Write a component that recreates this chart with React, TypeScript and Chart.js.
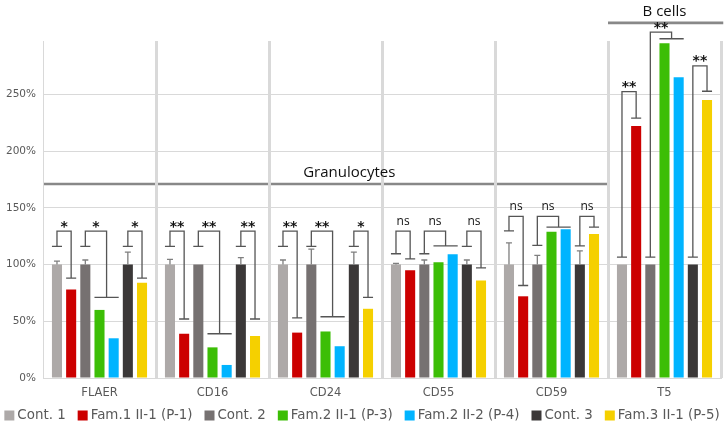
import React, { useEffect, useRef } from 'react';
import { Chart, registerables } from 'chart.js';
Chart.register(...registerables);

const categories = ['FLAER', 'CD16', 'CD24', 'CD55', 'CD59', 'T5'];
const seriesNames = ['Cont. 1', 'Fam.1 II-1 (P-1)', 'Cont. 2', 'Fam.2 II-1 (P-3)', 'Fam.2 II-2 (P-4)', 'Cont. 3', 'Fam.3 II-1 (P-5)'];
const seriesColors = ['#ADA9A8', '#CC0000', '#767171', '#3CBE06', '#00B4FF', '#3B3838', '#F5D000'];

const cont1 = [100, 100, 100, 100, 100, 100];
const fam1P1 = [78, 39, 40, 95, 72, 222];
const cont2 = [100, 100, 100, 100, 100, 100];
const fam2P3 = [60, 27, 41, 102, 129, 295];
const fam2P4 = [35, 11.5, 28, 109, 131, 265];
const cont3 = [100, 100, 100, 100, 100, 100];
const fam3P5 = [84, 37, 61, 86, 127, 245];

const cont1Err = [3, 4.5, 4, 1, 19, 0];
const cont2Err = [4, 0, 13.5, 4, 8, 0];
const cont3Err = [11, 6, 11, 4, 12, 0];

const yTicks = [0, 50, 100, 150, 200, 250];
const yMax = 297;

// [category, leftSeries, rightFrom, rightTo, leftCap, top, rightCap, label]
const brackets: [number, number, number, number, number, number, number, string][] = [
  [0, 0, 1, 1, 116, 129.5, 88, '*'],
  [0, 2, 3, 4, 116, 129.5, 71, '*'],
  [0, 5, 6, 6, 116, 129.5, 88, '*'],
  [1, 0, 1, 1, 116, 129.5, 52, '**'],
  [1, 2, 3, 4, 116, 129.5, 39, '**'],
  [1, 5, 6, 6, 116, 129.5, 52, '**'],
  [2, 0, 1, 1, 116, 129.5, 53, '**'],
  [2, 2, 3, 4, 116, 129.5, 54, '**'],
  [2, 5, 6, 6, 116, 129.5, 71, '*'],
  [3, 0, 1, 1, 109.5, 129.5, 105, 'ns'],
  [3, 2, 3, 4, 109.5, 129.5, 116.5, 'ns'],
  [3, 5, 6, 6, 116, 129.5, 97, 'ns'],
  [4, 0, 1, 1, 129.7, 142.4, 81.5, 'ns'],
  [4, 2, 3, 4, 116.8, 142.4, 133, 'ns'],
  [4, 5, 6, 6, 116.5, 142.4, 133, 'ns'],
  [5, 0, 1, 1, 106.5, 252.4, 229, '**'],
  [5, 2, 3, 4, 106.5, 304.8, 299, '**'],
  [5, 5, 6, 6, 106.5, 275, 252.7, '**'],
];

const groupLabels = ['Granulocytes', 'B cells'];
const groupFrom = [0, 5];
const groupTo = [5, 6.02];
const groupY = [171, 313];
const groupTextAt = [2.71, 5.5];

const overlay = {
  id: 'overlay',
  beforeDraw(chart: any) {
    const ctx = chart.ctx;
    const xs = chart.scales.x;
    const ys = chart.scales.y;
    const cw = (xs.right - xs.left) / categories.length;
    ctx.save();
    ctx.strokeStyle = '#888888';
    ctx.lineWidth = 2.6;
    for (let g = 0; g < groupLabels.length; g++) {
      const y = ys.getPixelForValue(groupY[g]);
      ctx.beginPath();
      ctx.moveTo(xs.left + groupFrom[g] * cw, y);
      ctx.lineTo(xs.left + groupTo[g] * cw, y);
      ctx.stroke();
    }
    ctx.restore();
  },
  afterDatasetsDraw(chart: any) {
    const ctx = chart.ctx;
    const ys = chart.scales.y;
    ctx.save();
    // error bars
    const errs: [number, number[]][] = [[0, cont1Err], [2, cont2Err], [5, cont3Err]];
    ctx.strokeStyle = '#7F7F7F';
    ctx.lineWidth = 1.3;
    for (const [di, arr] of errs) {
      const meta = chart.getDatasetMeta(di);
      const vals = chart.data.datasets[di].data as number[];
      arr.forEach((e, i) => {
        if (!e) return;
        const bar = meta.data[i];
        const yTop = ys.getPixelForValue(vals[i] + e);
        const yBar = ys.getPixelForValue(vals[i]);
        ctx.beginPath();
        ctx.moveTo(bar.x, yBar);
        ctx.lineTo(bar.x, yTop);
        ctx.moveTo(bar.x - 3, yTop);
        ctx.lineTo(bar.x + 3, yTop);
        ctx.stroke();
      });
    }
    // brackets
    ctx.strokeStyle = '#555555';
    ctx.lineWidth = 1.3;
    for (const [c, l, rf, rt, lc, top, rc, label] of brackets) {
      const lb = chart.getDatasetMeta(l).data[c];
      const rb1 = chart.getDatasetMeta(rf).data[c];
      const rb2 = chart.getDatasetMeta(rt).data[c];
      const lx = lb.x;
      const rLeft = rb1.x - rb1.width / 2;
      const rRight = rb2.x + rb2.width / 2;
      const rx = (rLeft + rRight) / 2;
      const yl = ys.getPixelForValue(lc);
      const yt = ys.getPixelForValue(top);
      const yr = ys.getPixelForValue(rc);
      ctx.beginPath();
      ctx.moveTo(lx - lb.width / 2, yl);
      ctx.lineTo(lx + lb.width / 2, yl);
      ctx.moveTo(lx, yl);
      ctx.lineTo(lx, yt);
      ctx.lineTo(rx, yt);
      ctx.lineTo(rx, yr);
      ctx.moveTo(rLeft, yr);
      ctx.lineTo(rRight, yr);
      ctx.stroke();
      ctx.fillStyle = '#111111';
      ctx.textAlign = 'center';
      ctx.textBaseline = 'alphabetic';
      if (label === 'ns') {
        ctx.font = '12px "Open Sans"';
        ctx.fillText(label, (lx + rx) / 2, yt - 6);
      } else {
        ctx.font = 'bold 14px "DejaVu Sans"';
        ctx.fillText(label, (lx + rx) / 2, yt - 0.5);
      }
    }
    ctx.restore();
  },
  afterDraw(chart: any) {
    const ctx = chart.ctx;
    const xs = chart.scales.x;
    const ys = chart.scales.y;
    const cw = (xs.right - xs.left) / categories.length;
    ctx.save();
    ctx.fillStyle = '#111111';
    ctx.font = '15px "Open Sans"';
    ctx.textAlign = 'center';
    ctx.textBaseline = 'middle';
    for (let g = 0; g < groupLabels.length; g++) {
      const y = ys.getPixelForValue(groupY[g]);
      ctx.fillText(groupLabels[g], xs.left + groupTextAt[g] * cw, y - 11);
    }
    // legend
    ctx.font = '13.4px "DejaVu Sans"';
    ctx.textAlign = 'left';
    ctx.textBaseline = 'middle';
    const box = 10, gapIn = 3, gapOut = 12;
    const widths = seriesNames.map((n) => ctx.measureText(n).width);
    const total = widths.reduce((a, b) => a + b, 0) + seriesNames.length * (box + gapIn) + (seriesNames.length - 1) * gapOut;
    let x = 362 - total / 2;
    const yc = 415.5;
    seriesNames.forEach((n, i) => {
      ctx.fillStyle = seriesColors[i];
      ctx.fillRect(x, yc - 5, box, box);
      x += box + gapIn;
      ctx.fillStyle = '#595959';
      ctx.fillText(n, x, yc);
      x += widths[i] + gapOut;
    });
    ctx.restore();
  },
};

export default function App() {
  const ref = useRef<HTMLCanvasElement>(null);
  useEffect(() => {
    const series = [cont1, fam1P1, cont2, fam2P3, fam2P4, cont3, fam3P5];
    const chart = new Chart(ref.current as HTMLCanvasElement, {
      type: 'bar',
      data: {
        labels: categories,
        datasets: series.map((d, i) => ({
          label: seriesNames[i],
          data: d,
          backgroundColor: seriesColors[i],
          borderWidth: 0,
          categoryPercentage: 0.878,
          barPercentage: 0.71,
        })),
      },
      options: {
        responsive: false,
        animation: false,
        layout: { padding: { left: 0, right: 5, top: 41, bottom: 0 } },
        plugins: { legend: { display: false }, tooltip: { enabled: false } },
        scales: {
          x: {
            grid: {
              color: '#D9D9D9',
              lineWidth: (c: any) => (c.index === 0 ? 1 : 3),
              drawTicks: false,
              offset: true,
            },
            border: { display: true, color: '#D9D9D9' },
            ticks: { color: '#595959', font: { family: 'DejaVu Sans', size: 11.5 }, padding: 8 },
            afterFit: (s: any) => { s.height = 48; },
          },
          y: {
            min: 0,
            max: yMax,
            grid: { color: '#D9D9D9', drawTicks: false },
            border: { display: false },
            ticks: {
              color: '#595959',
              font: { family: 'DejaVu Sans', size: 10.5 },
              padding: 7,
              callback: (v: any) => v + '%',
            },
            afterBuildTicks: (s: any) => { s.ticks = yTicks.map((v) => ({ value: v })); },
            afterFit: (s: any) => { s.width = 43; },
          },
        },
      } as any,
      plugins: [overlay],
    });
    return () => chart.destroy();
  }, []);
  return (
    <div style={{ position: 'fixed', left: 0, top: 0, width: 726, height: 426, background: '#fff' }}>
      <canvas ref={ref} width={726} height={426} style={{ display: 'block' }} />
    </div>
  );
}
